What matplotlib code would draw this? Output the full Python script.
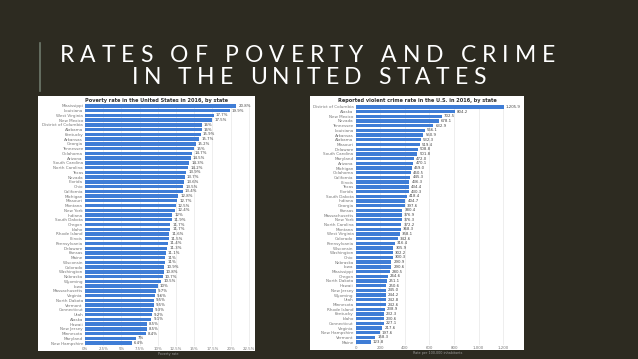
import matplotlib.pyplot as plt
import numpy as np

# ── data ──────────────────────────────────────────────────────────────────────
pov_states = ['Mississippi', 'Louisiana', 'West Virginia', 'New Mexico', 'District of Columbia',
              'Alabama', 'Kentucky', 'Arkansas', 'Georgia', 'Tennessee', 'Oklahoma', 'Arizona',
              'South Carolina', 'North Carolina', 'Texas', 'Nevada', 'Florida', 'Ohio',
              'California', 'Michigan', 'Missouri', 'Montana', 'New York', 'Indiana',
              'South Dakota', 'Oregon', 'Idaho', 'Rhode Island', 'Illinois', 'Pennsylvania',
              'Delaware', 'Kansas', 'Maine', 'Wisconsin', 'Colorado', 'Washington', 'Nebraska',
              'Wyoming', 'Iowa', 'Massachusetts', 'Virginia', 'North Dakota', 'Vermont',
              'Connecticut', 'Utah', 'Alaska', 'Hawaii', 'New Jersey', 'Minnesota', 'Maryland',
              'New Hampshire']
pov_rates = [20.8, 19.9, 17.7, 17.5, 16.0, 16.0, 15.9, 15.7, 15.2, 15.0, 14.7, 14.5, 14.3,
             14.2, 13.9, 13.7, 13.6, 13.5, 13.4, 12.8, 12.7, 12.5, 12.4, 12.0, 11.9, 11.7,
             11.7, 11.6, 11.5, 11.4, 11.3, 11.1, 11.0, 11.0, 10.9, 10.8, 10.7, 10.5, 10.0,
             9.7, 9.6, 9.5, 9.5, 9.3, 9.2, 9.1, 8.5, 8.5, 8.4, 7.0, 6.4]
pov_ticks = [0, 2.5, 5, 7.5, 10, 12.5, 15, 17.5, 20, 22.5]

crime_states = ['District of Columbia', 'Alaska', 'New Mexico', 'Nevada', 'Tennessee',
                'Louisiana', 'Arkansas', 'Alabama', 'Missouri', 'Delaware', 'South Carolina',
                'Maryland', 'Arizona', 'Michigan', 'Oklahoma', 'California', 'Illinois', 'Texas',
                'Florida', 'South Dakota', 'Indiana', 'Georgia', 'Kansas', 'Massachusetts',
                'New York', 'North Carolina', 'Montana', 'West Virginia', 'Colorado',
                'Pennsylvania', 'Wisconsin', 'Washington', 'Ohio', 'Nebraska', 'Iowa',
                'Mississippi', 'Oregon', 'North Dakota', 'Hawaii', 'New Jersey', 'Wyoming',
                'Utah', 'Minnesota', 'Rhode Island', 'Kentucky', 'Idaho', 'Connecticut',
                'Virginia', 'New Hampshire', 'Vermont', 'Maine']
crime_rates = [1205.9, 804.2, 702.5, 678.1, 632.9, 566.1, 550.9, 532.3, 519.4, 508.8, 501.8,
               472.0, 470.1, 459.0, 450.5, 445.3, 436.3, 434.4, 430.3, 418.4, 404.7, 397.6,
               380.4, 376.9, 376.3, 372.2, 368.3, 358.1, 342.6, 316.4, 305.9, 302.2, 300.3,
               290.9, 290.6, 280.5, 264.6, 251.1, 250.6, 245.0, 244.2, 242.8, 242.6, 238.9,
               232.3, 230.6, 227.1, 217.6, 197.6, 158.3, 123.8]
crime_ticks = [0, 200, 400, 600, 800, 1000, 1200]

title_lines = ['RATES OF POVERTY AND CRIME', 'IN THE UNITED STATES']

BG = '#2d2b21'
BLUE = '#3f7dd6'
W, H = 638, 359

fig = plt.figure(figsize=(W / 100, H / 100), dpi=100, facecolor=BG)
renderer = fig.canvas.get_renderer()


def px_axes(x0, y0, x1, y1):
    # pixel box (top-left origin) -> figure axes
    return fig.add_axes([x0 / W, 1 - y1 / H, (x1 - x0) / W, (y1 - y0) / H])


# ── slide title: letter-spaced, stretched to the reference line widths ───────
fig.add_artist(plt.Line2D([40 / W, 40 / W], [1 - 43 / H, 1 - 91 / H], color='#6f7a6c', lw=1.2))
TSIZE = 16.5
SPACE_W = 6.0
for line, (x_left, x_right, yc) in zip(title_lines, [(60, 555, 55), (132, 486, 78)]):
    texts, widths = [], []
    for ch in line:
        if ch == ' ':
            texts.append(None)
            widths.append(SPACE_W)
            continue
        t = fig.text(0, 1 - yc / H, ch, color='white', fontsize=TSIZE, family='Lato',
                     fontweight='normal', ha='left', va='center')
        texts.append(t)
        widths.append(t.get_window_extent(renderer).width)
    track = ((x_right - x_left) - sum(widths)) / (len(line) - 1)
    x = x_left
    for t, w in zip(texts, widths):
        if t is not None:
            t.set_x(x / W)
        x += w + track


def panel(box, plot_box, states, rates, ticks, xmax, fmt, tick_fmt, title, title_x, xlabel):
    bg = px_axes(*box)
    bg.set_facecolor('white')
    bg.set_xticks([])
    bg.set_yticks([])
    for s in bg.spines.values():
        s.set_visible(False)
    bg.text((title_x - box[0]) / (box[2] - box[0]), 1 - 2 / (box[3] - box[1]), title,
            transform=bg.transAxes, ha='center', va='top', fontsize=3.6,
            fontweight='bold', color='#333333')

    ax = px_axes(*plot_box)
    ax.set_facecolor('none')
    y = np.arange(len(states))
    ax.barh(y, rates, height=0.72, color=BLUE, zorder=3)
    ax.set_ylim(len(states) - 0.5, -0.5)
    ax.set_xlim(0, xmax)
    ax.set_xticks(ticks)
    ax.set_xticklabels([tick_fmt(t) for t in ticks])
    ax.set_yticks(y)
    ax.set_yticklabels(states)
    ax.tick_params(axis='both', length=0, pad=1.5, labelsize=3, labelcolor='#777777')
    ax.tick_params(axis='x', pad=1.2, labelsize=2.8)
    ax.grid(axis='x', color='#e8e8e8', lw=0.5, zorder=0)
    for s in ax.spines.values():
        s.set_visible(False)
    for yi, v in zip(y, rates):
        ax.text(v + xmax * 0.012, yi, fmt(v), va='center', ha='left',
                fontsize=2.8, color='#444444')
    ax.set_xlabel(xlabel, fontsize=2.4, color='#999999', labelpad=0.8)


panel((38, 96, 255, 351), (85, 103.5, 252.5, 345.5), pov_states, pov_rates, pov_ticks, 23,
      lambda v: f'{v:g}%', lambda t: f'{t:g}%',
      'Poverty rate in the United States in 2016, by state', 157, 'Poverty rate')

panel((310, 96, 524, 350), (355.7, 104.5, 520, 344.5), crime_states, crime_rates, crime_ticks,
      1337, lambda v: f'{v:,.1f}', lambda t: f'{t:,.0f}',
      'Reported violent crime rate in the U.S. in 2016, by state', 417,
      'Rate per 100,000 inhabitants')

fig.savefig('out.png', dpi=100, facecolor=BG)
